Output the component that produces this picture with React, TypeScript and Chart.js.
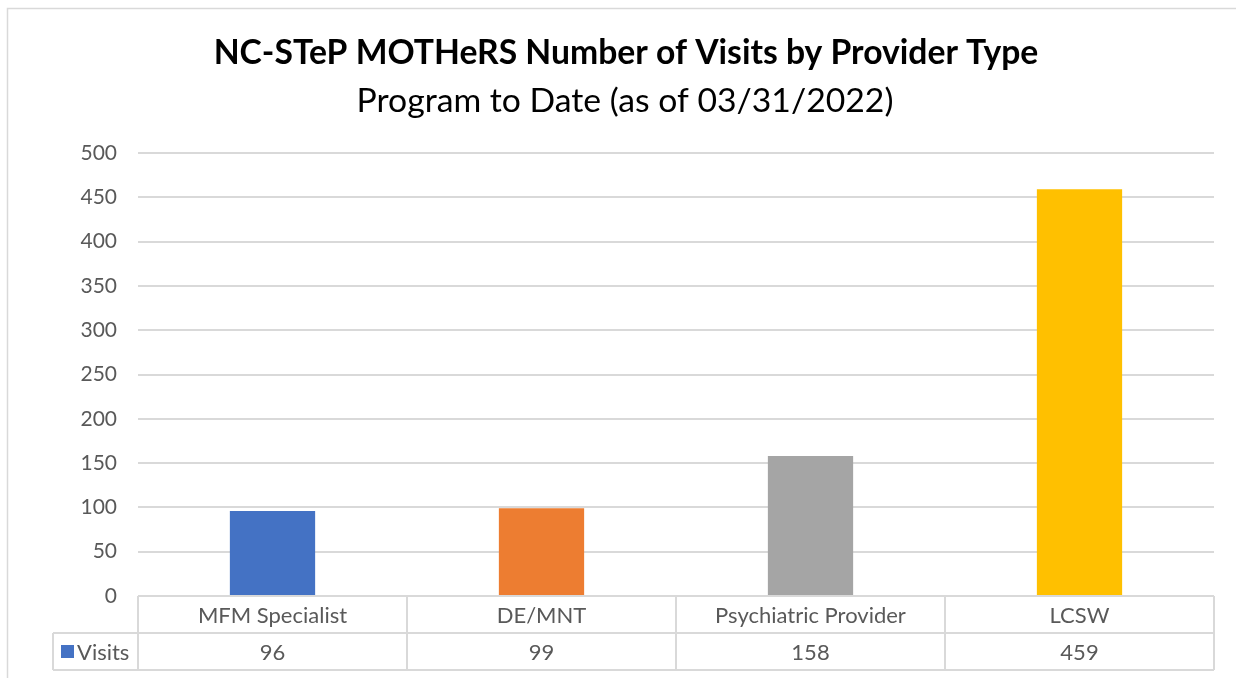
import React, { useEffect, useRef } from "react";
import { Chart, registerables } from "chart.js";

Chart.register(...registerables);

const categories = ["MFM Specialist", "DE/MNT", "Psychiatric Provider", "LCSW"];
const visits = [96, 99, 158, 459];
const barColors = ["#4472C4", "#ED7D31", "#A5A5A5", "#FFC000"];
const seriesName = "Visits";
const titleText = "NC-STeP MOTHeRS Number of Visits by Provider Type";
const subtitleText = "Program to Date (as of 03/31/2022)";

const FONT = "Lato, 'Open Sans', sans-serif";
const GRID = "#d9d9d9";
const TEXT = "#595959";

function fitFont(ctx: CanvasRenderingContext2D, text: string, weight: string, target: number) {
  ctx.font = `${weight} 100px ${FONT}`;
  const w = ctx.measureText(text).width;
  return (100 * target) / w;
}

const tablePlugin = {
  id: "tablePlugin",
  afterDraw(chart: any) {
    const ctx: CanvasRenderingContext2D = chart.ctx;
    const area = chart.chartArea;
    const x = chart.scales.x;
    const n = categories.length;
    const colW = (area.right - area.left) / n;
    const top = area.bottom;
    const rowH = 37;
    const legendLeft = 53;
    ctx.save();
    // outer frame
    ctx.strokeStyle = GRID;
    ctx.lineWidth = 1.5;
    ctx.beginPath();
    ctx.moveTo(7.5, chart.height);
    ctx.lineTo(7.5, 8.5);
    ctx.lineTo(chart.width, 8.5);
    ctx.stroke();

    // titles
    ctx.fillStyle = "#000000";
    ctx.textAlign = "center";
    ctx.textBaseline = "middle";
    const ts = fitFont(ctx, titleText, "bold", 825);
    ctx.font = `bold ${ts}px ${FONT}`;
    ctx.fillText(titleText, 626, 53);
    const ss = fitFont(ctx, subtitleText, "normal", 537);
    ctx.font = `normal ${ss}px ${FONT}`;
    ctx.fillText(subtitleText, 625, 101);

    // table lines
    ctx.strokeStyle = GRID;
    ctx.lineWidth = 2;
    ctx.beginPath();
    ctx.moveTo(area.left, top);
    ctx.lineTo(area.right, top);
    ctx.moveTo(legendLeft, top + rowH);
    ctx.lineTo(area.right, top + rowH);
    ctx.moveTo(legendLeft, top + 2 * rowH);
    ctx.lineTo(area.right, top + 2 * rowH);
    for (let i = 0; i <= n; i++) {
      const xx = area.left + i * colW;
      ctx.moveTo(xx, top);
      ctx.lineTo(xx, top + 2 * rowH);
    }
    ctx.moveTo(legendLeft, top + rowH);
    ctx.lineTo(legendLeft, top + 2 * rowH);
    ctx.stroke();

    // text
    ctx.fillStyle = TEXT;
    ctx.font = `normal 22px ${FONT}`;
    ctx.textAlign = "center";
    for (let i = 0; i < n; i++) {
      const cx = x.getPixelForValue(i);
      ctx.fillText(categories[i], cx, top + rowH / 2 + 1);
      ctx.fillText(String(visits[i]), cx, top + rowH * 1.5 + 1);
    }
    // legend key
    ctx.fillStyle = barColors[0];
    ctx.fillRect(61, top + rowH + 12, 13, 13);
    ctx.fillStyle = TEXT;
    ctx.textAlign = "left";
    ctx.fillText(seriesName, 77, top + rowH * 1.5 + 1);
    ctx.restore();
  },
};

export default function App() {
  const ref = useRef<HTMLCanvasElement>(null);
  useEffect(() => {
    document.body.style.margin = "0";
    const chart = new Chart(ref.current!, {
      type: "bar",
      data: {
        labels: categories,
        datasets: [
          {
            label: seriesName,
            data: visits,
            backgroundColor: barColors,
            barPercentage: 0.634,
            categoryPercentage: 0.5,
          },
        ],
      },
      options: {
        responsive: false,
        animation: false,
        layout: { padding: { left: 0, right: 22, top: 153, bottom: 82 } },
        plugins: {
          legend: { display: false },
          title: { display: false },
          tooltip: { enabled: false },
        },
        scales: {
          x: { display: false },
          y: {
            min: 0,
            max: 500,
            ticks: {
              stepSize: 50,
              color: TEXT,
              padding: 21,
              font: { family: FONT, size: 21 },
            },
            grid: { color: GRID, lineWidth: 2, drawTicks: false },
            border: { display: false },
            afterFit: (s: any) => {
              s.width = 138;
            },
          },
        },
      },
      plugins: [tablePlugin],
    });
    return () => chart.destroy();
  }, []);
  return (
    <div style={{ position: "absolute", left: 0, top: 0, width: 1236, height: 678, background: "#fff" }}>
      <canvas ref={ref} width={1236} height={678} />
    </div>
  );
}
